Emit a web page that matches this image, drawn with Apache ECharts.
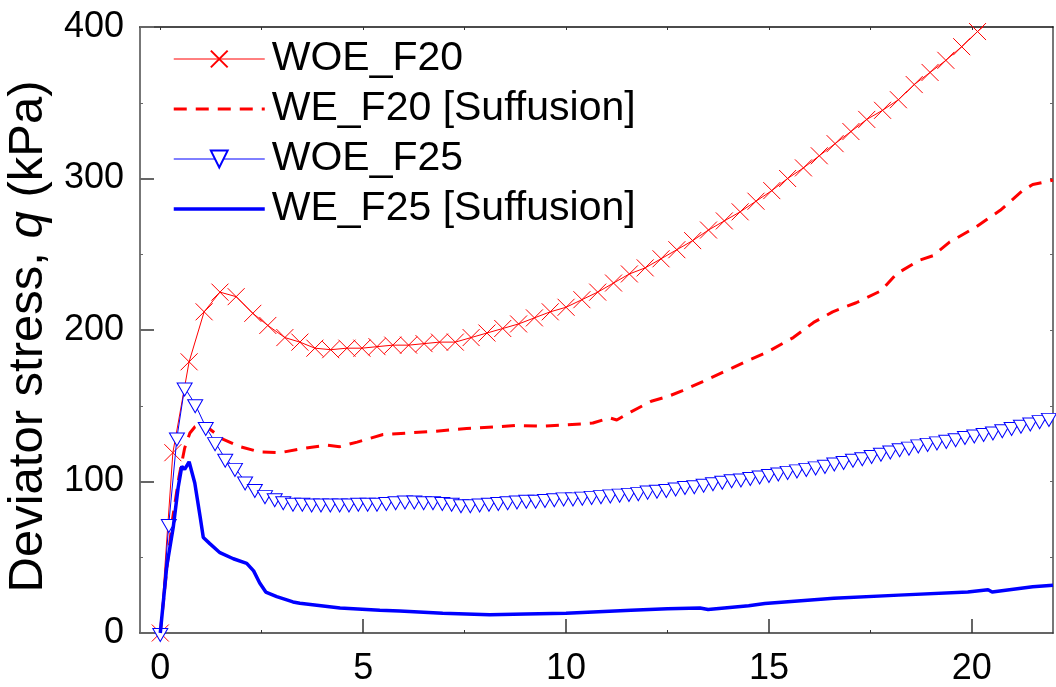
<!DOCTYPE html>
<html><head><meta charset="utf-8">
<script src="https://cdn.jsdelivr.net/npm/echarts@6/dist/echarts.min.js"></script>
<style>html,body{margin:0;padding:0;background:#fff}#c{width:1056px;height:687px}</style>
</head><body><div id="c"></div>
<script>
// ---- data ----
const seriesNames = ['WOE_F20', 'WE_F20 [Suffusion]', 'WOE_F25', 'WE_F25 [Suffusion]'];
const xTicks = [0, 5, 10, 15, 20];
const yTicks = [0, 100, 200, 300, 400];

const woeF20X = [0, 0.31, 0.71, 1.08, 1.47, 1.87, 2.28, 2.65, 3.07, 3.44, 3.81, 4.2, 4.6, 4.97, 5.34, 5.73, 6.12, 6.5, 6.88, 7.27, 7.66, 8.05, 8.44, 8.83, 9.22, 9.61, 10.0, 10.39, 10.78, 11.17, 11.56, 11.95, 12.34, 12.73, 13.12, 13.51, 13.9, 14.29, 14.68, 15.07, 15.46, 15.85, 16.24, 16.63, 17.02, 17.41, 17.8, 18.19, 18.58, 18.97, 19.36, 19.75, 20.14, 20.53];
const woeF20Q = [0, 119, 179, 212, 225, 222, 211, 203, 195, 192, 188, 187, 188, 188, 189, 190, 190, 191, 192, 192, 195, 198, 201, 204, 208, 212, 215, 220, 225, 231, 237, 241, 247, 253, 259, 266, 272, 278, 285, 292, 300, 307, 315, 323, 331, 339, 345, 352, 362, 370, 378, 387, 397, 406];

const weF20X = [0, 0.15, 0.3, 0.46, 0.6, 0.73, 0.85, 1.0, 1.2, 1.54, 1.96, 2.45, 2.95, 3.44, 4.1, 4.42, 4.85, 5.49, 6.08, 6.72, 7.55, 8.2, 8.78, 9.42, 10.4, 10.66, 11.07, 11.25, 11.6, 12.1, 12.5, 12.87, 13.37, 14.1, 14.5, 14.93, 15.6, 16.1, 16.57, 17.15, 17.77, 18.14, 18.7, 19.04, 19.45, 20.1, 20.7, 21.25, 21.5, 21.86, 22];
const weF20Q = [0, 40, 75, 103, 122, 132, 136, 138, 135, 128, 123, 119.5, 119, 121.5, 124, 123, 126, 131, 132, 133, 135, 136, 137, 136.5, 138, 138.6, 142, 140.6, 146, 153, 156, 160, 166, 175, 180, 185, 195, 205, 212, 218, 226, 237, 246, 249, 258, 268, 279, 292, 296, 298, 299];

const woeF25X = [0, 0.21, 0.41, 0.6, 0.86, 1.12, 1.35, 1.6, 1.84, 2.09, 2.33, 2.58, 2.82, 3.03, 3.27, 3.5, 3.73, 3.96, 4.19, 4.42, 4.65, 4.88, 5.11, 5.34, 5.57, 5.8, 6.03, 6.26, 6.49, 6.72, 6.95, 7.18, 7.41, 7.64, 7.87, 8.1, 8.33, 8.56, 8.79, 9.02, 9.25, 9.48, 9.71, 9.94, 10.17, 10.4, 10.63, 10.86, 11.09, 11.32, 11.55, 11.78, 12.01, 12.24, 12.47, 12.7, 12.93, 13.16, 13.39, 13.62, 13.85, 14.08, 14.31, 14.54, 14.77, 15.0, 15.23, 15.46, 15.69, 15.92, 16.15, 16.38, 16.61, 16.84, 17.07, 17.3, 17.53, 17.76, 17.99, 18.22, 18.45, 18.68, 18.91, 19.14, 19.37, 19.6, 19.83, 20.06, 20.29, 20.52, 20.75, 20.98, 21.21, 21.44, 21.67, 21.9];
const woeF25Q = [0, 72, 129, 162, 151, 136, 126, 115, 109, 100, 95, 91, 89, 87, 86, 86, 85.5, 85.5, 85.5, 85.5, 85.5, 86, 86, 86, 86.5, 87, 87.5, 87.5, 87, 87, 86.5, 86, 85, 85, 85.5, 86, 86.5, 87, 87.5, 88, 88, 88.5, 89, 89.5, 89.5, 90, 90.5, 91, 91.5, 92, 92.5, 93, 94, 94.5, 95, 96, 97, 97.5, 98.5, 99.5, 100.5, 101.5, 102, 103, 104, 105, 106, 107, 108, 109, 110, 111, 112.5, 113.5, 115, 116, 117.5, 119, 120.5, 122, 123, 124.5, 125.5, 126.5, 127.5, 128.5, 130, 131, 132, 133, 134.5, 136, 137.5, 139, 140.5, 142];

const weF25X = [0, 0.16, 0.32, 0.44, 0.53, 0.6, 0.71, 0.85, 0.98, 1.06, 1.22, 1.47, 1.8, 2.13, 2.3, 2.45, 2.6, 2.87, 3.27, 3.44, 4.43, 5.41, 5.9, 6.96, 8.12, 9.0, 10.0, 11.6, 12.5, 13.3, 13.5, 14.5, 14.9, 16.6, 18.2, 19.9, 20.4, 20.5, 21.5, 22];
const weF25Q = [0, 44, 70, 96, 110, 108, 113, 99, 77, 63, 59, 53, 49, 46, 41, 33, 27, 24, 20.5, 19.6, 16.5, 15, 14.5, 13, 12, 12.5, 13, 15, 16, 16.5, 15.5, 18, 19.5, 23, 25, 27, 28.5, 27, 30.5, 31.5];

// ---- build chart ----
const zip = (xs, ys) => xs.map((x, i) => [x, ys[i]]);
const FONT = "'Liberation Sans', Arial, sans-serif";
const RED = '#ff0000', BLUE = '#0000ff';
const xMin = -0.5, xMax = 22, yMin = 0, yMax = 400;
const xHalf = [2.5, 7.5, 12.5, 17.5];
const xAll = [0, 2.5, 5, 7.5, 10, 12.5, 15, 17.5, 20];
const yAllHalf = [50, 100, 150, 200, 250, 300, 350];
const NO_SYMBOL = 'path://M0,0L1,0L1,1L0,1Z';
const lineWidths = [1, 3, 1, 3.5];

const chart = echarts.init(document.getElementById('c'), null, {renderer: 'canvas'});
chart.setOption({
  animation: false,
  backgroundColor: '#fff',
  textStyle: {fontFamily: FONT},
  grid: {left: 140, right: 3, top: 27, bottom: 54, containLabel: false, outerBoundsMode: 'none'},
  legend: {
    orient: 'vertical', left: 167, top: 29,
    itemWidth: 91, itemHeight: 21, itemGap: 0,
    selectedMode: false,
    textStyle: {fontFamily: FONT, fontSize: 41, color: '#000', lineHeight: 50, padding: [0, 0, 0, 2]},
    data: seriesNames.map((n, i) => ({name: n, lineStyle: {width: lineWidths[i]}}))
  },
  xAxis: [
    {type: 'value', position: 'bottom', min: xMin, max: xMax,
     axisLine: {show: true, onZero: false, lineStyle: {color: '#333', width: 1.5}},
     axisTick: {show: true, inside: true, length: 14, customValues: xTicks, lineStyle: {color: '#333', width: 1.5}},
     axisLabel: {show: true, customValues: xTicks, fontSize: 36, color: '#000', fontFamily: FONT, margin: 18},
     splitLine: {show: false}},
    {type: 'value', position: 'bottom', min: xMin, max: xMax,
     axisLine: {show: false, onZero: false},
     axisTick: {show: true, inside: true, length: 3, customValues: xHalf, lineStyle: {color: '#333', width: 1}},
     axisLabel: {show: false}, splitLine: {show: false}},
    {type: 'value', position: 'top', min: xMin, max: xMax,
     axisLine: {show: true, onZero: false, lineStyle: {color: '#111', width: 1.5}},
     axisTick: {show: true, inside: true, length: 3, customValues: xAll, lineStyle: {color: '#333', width: 1}},
     axisLabel: {show: false}, splitLine: {show: false}}
  ],
  yAxis: [
    {type: 'value', position: 'left', min: yMin, max: yMax,
     axisLine: {show: true, onZero: false, lineStyle: {color: '#777', width: 2}},
     axisTick: {show: true, inside: true, length: 14, customValues: yTicks, lineStyle: {color: '#666', width: 2}},
     axisLabel: {show: true, customValues: yTicks, fontSize: 36, color: '#000', fontFamily: FONT, margin: 16},
     splitLine: {show: false},
     name: '{n|Deviator stress, }{i|q}{n| (kPa)}',
     nameLocation: 'middle', nameGap: 85, nameRotate: 90,
     nameTextStyle: {padding: [0, 13, 0, 0], rich: {
       n: {fontSize: 49, fontFamily: FONT, color: '#000'},
       i: {fontSize: 49, fontFamily: FONT, color: '#000', fontStyle: 'italic'}
     }}},
    {type: 'value', position: 'left', min: yMin, max: yMax,
     axisLine: {show: false, onZero: false},
     axisTick: {show: true, inside: true, length: 3, customValues: [50, 150, 250, 350], lineStyle: {color: '#666', width: 1}},
     axisLabel: {show: false}, splitLine: {show: false}},
    {type: 'value', position: 'right', min: yMin, max: yMax,
     axisLine: {show: true, onZero: false, lineStyle: {color: '#777', width: 2}},
     axisTick: {show: true, inside: true, length: 3, customValues: yAllHalf, lineStyle: {color: '#666', width: 1}},
     axisLabel: {show: false}, splitLine: {show: false}}
  ],
  series: [
    {name: seriesNames[0], type: 'line', data: zip(woeF20X, woeF20Q),
     xAxisIndex: 0, yAxisIndex: 0, z: 3,
     symbol: 'path://M0,0L10,10M10,0L0,10', symbolSize: 17, showAllSymbol: true,
     itemStyle: {color: 'rgba(0,0,0,0)', borderColor: RED, borderWidth: 1},
     lineStyle: {color: RED, width: lineWidths[0]}, emphasis: {disabled: true}},
    {name: seriesNames[1], type: 'line', data: zip(weF20X, weF20Q),
     xAxisIndex: 0, yAxisIndex: 0, z: 2,
     symbol: NO_SYMBOL, showSymbol: false,
     itemStyle: {color: 'rgba(0,0,0,0)', borderWidth: 0},
     lineStyle: {color: RED, width: lineWidths[1], type: [13, 9]}, emphasis: {disabled: true}},
    {name: seriesNames[2], type: 'line', data: zip(woeF25X, woeF25Q),
     xAxisIndex: 0, yAxisIndex: 0, z: 4,
     symbol: 'path://M0,0L16,0L8,14Z', symbolSize: [15, 13], symbolOffset: [0, 2], showAllSymbol: true,
     itemStyle: {color: '#fff', borderColor: BLUE, borderWidth: 1},
     lineStyle: {color: BLUE, width: lineWidths[2]}, emphasis: {disabled: true}},
    {name: seriesNames[3], type: 'line', data: zip(weF25X, weF25Q),
     xAxisIndex: 0, yAxisIndex: 0, z: 5,
     symbol: NO_SYMBOL, showSymbol: false,
     itemStyle: {color: 'rgba(0,0,0,0)', borderWidth: 0},
     lineStyle: {color: BLUE, width: lineWidths[3]}, emphasis: {disabled: true}}
  ]
});
</script></body></html>
